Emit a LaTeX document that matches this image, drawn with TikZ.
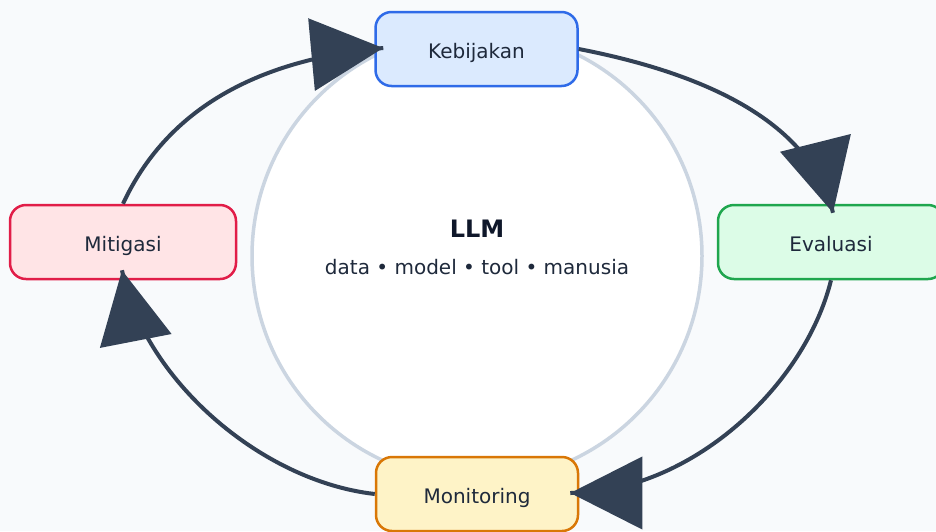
\documentclass[tikz,border=0pt]{standalone}
\usepackage{fontspec}
\setmainfont{DejaVu Sans}
\usetikzlibrary{arrows.meta,calc,decorations.markings}

\definecolor{bgc}{HTML}{F8FAFC}
\definecolor{ringc}{HTML}{CBD5E1}
\definecolor{arrowc}{HTML}{334155}
\definecolor{labelc}{HTML}{1E293B}
\definecolor{titlec}{HTML}{0F172A}
\definecolor{kebfill}{HTML}{DBEAFE}
\definecolor{kebline}{HTML}{2F6BE8}
\definecolor{evafill}{HTML}{DCFCE7}
\definecolor{evaline}{HTML}{1FA64E}
\definecolor{monfill}{HTML}{FEF3C7}
\definecolor{monline}{HTML}{D97706}
\definecolor{mitfill}{HTML}{FFE4E6}
\definecolor{mitline}{HTML}{E11D48}

\begin{document}
\begin{tikzpicture}[x=1pt,y=-1pt,
  stage/.style={draw, rounded corners=16pt, line width=2.5pt,
    minimum height=74pt, text height=18pt, text depth=0pt, inner sep=0pt,
    font=\fontsize{20}{24}\selectfont, text=labelc},
  flow/.style={draw=arrowc, line width=4pt,
    decoration={markings,
      mark=at position 0.9999 with {\arrow[arrowc]{Triangle[length=72pt,width=72pt]}}},
    postaction={decorate}}]

  % canvas
  \useasboundingbox (0,0) rectangle (936,531);
  \clip (0,0) rectangle (936,531);
  \fill[bgc] (0,0) rectangle (936,531);

  % central ring
  \node[circle, draw=ringc, fill=white, line width=3.5pt,
        minimum size=450pt, inner sep=0pt] (ring) at (477,256) {};
  \node[anchor=base, font=\bfseries\fontsize{24}{28}\selectfont, text=titlec]
        (llm) at (477,237) {LLM};
  \node[anchor=base, font=\fontsize{20}{24}\selectfont, text=labelc]
        (parts) at (477,274) {data • model • tool • manusia};

  % stages of the cycle
  \node[stage, fill=kebfill, draw=kebline, minimum width=202pt] (keb) at (476.5,49) {Kebijakan};
  \node[stage, fill=evafill, draw=evaline, minimum width=226pt] (eva) at (831,242) {Evaluasi};
  \node[stage, fill=monfill, draw=monline, minimum width=202pt] (mon) at (477,494) {Monitoring};
  \node[stage, fill=mitfill, draw=mitline, minimum width=226pt] (mit) at (123,242) {Mitigasi};

  % cycle arrows
  \draw[flow] (mit.north) .. controls (165.7,112) and (252.7,60) .. ($(keb.west)+(9,-1)$);
  \draw[flow] (keb.east) .. controls (728,78) and (813,133) .. ($(eva.north)+(2,9)$);
  \draw[flow] (eva.south) .. controls (804.6,386.7) and (690,493) .. ($(mon.east)+(-9,-1)$);
  \draw[flow] (mon.west) .. controls (260,481) and (142.9,377.9) .. ($(mit.south)+(-1,-10)$);
\end{tikzpicture}
\end{document}
